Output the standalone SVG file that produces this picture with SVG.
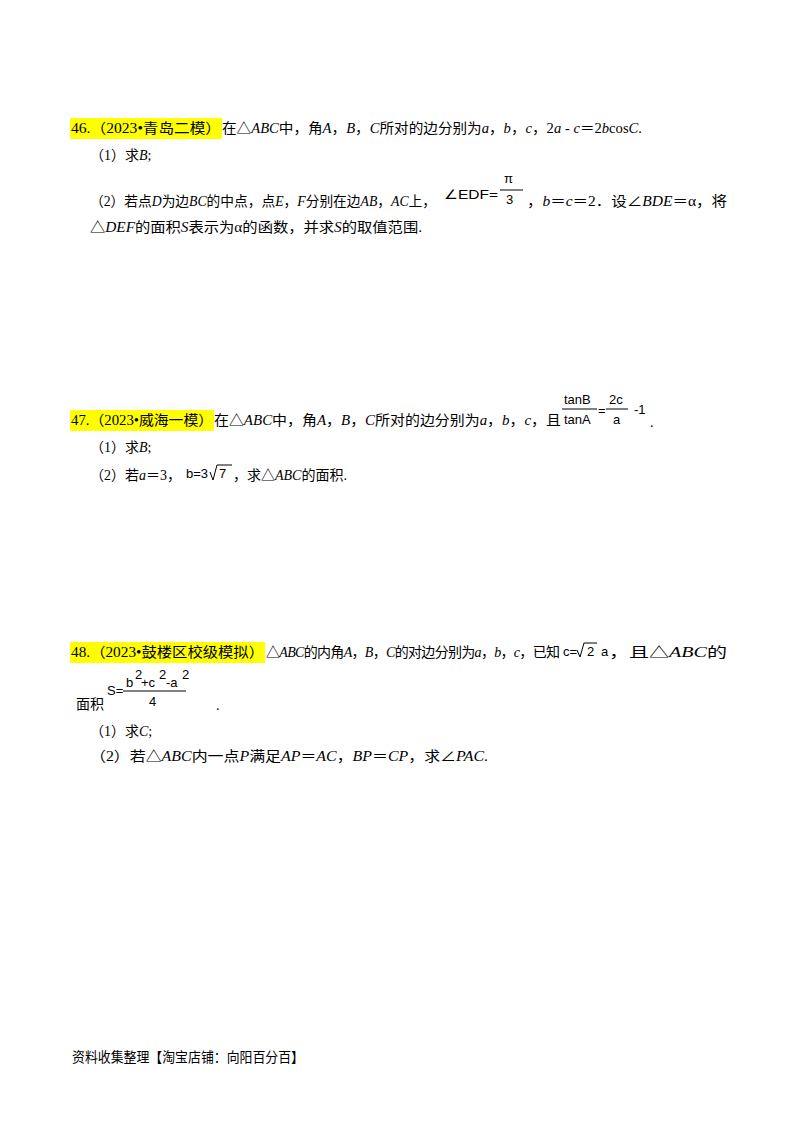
<svg xmlns="http://www.w3.org/2000/svg" width="800" height="1132" viewBox="0 0 800 1132">
<style>
t,text{font-family:"Liberation Serif","Noto Sans CJK SC",serif;font-size:14px;fill:#000}
.i{font-style:italic}
.m{font-family:"Liberation Sans","DejaVu Sans",sans-serif;font-size:13px}
.hl{fill:#ffff00}
</style>
<rect width="800" height="1132" fill="#fff"/>
<g id="q46">
<rect class="hl" x="70" y="118" width="152" height="21"/>
<text x="71" y="133" textLength="150" lengthAdjust="spacingAndGlyphs">46.（2023•青岛二模）</text>
<text x="222" y="133" textLength="420" lengthAdjust="spacingAndGlyphs">在△<tspan class="i">ABC</tspan>中，角<tspan class="i">A</tspan>，<tspan class="i">B</tspan>，<tspan class="i">C</tspan>所对的边分别为<tspan class="i">a</tspan>，<tspan class="i">b</tspan>，<tspan class="i">c</tspan>，2<tspan class="i">a</tspan> - <tspan class="i">c</tspan>＝2<tspan class="i">b</tspan>cos<tspan class="i">C</tspan>.</text>
<text x="90" y="160">（1）求<tspan class="i">B</tspan>;</text>
<text x="90" y="206" textLength="346" lengthAdjust="spacingAndGlyphs">（2）若点<tspan class="i">D</tspan>为边<tspan class="i">BC</tspan>的中点，点<tspan class="i">E</tspan>，<tspan class="i">F</tspan>分别在边<tspan class="i">AB</tspan>，<tspan class="i">AC</tspan>上，</text>
<text class="m" x="444" y="199" textLength="54" lengthAdjust="spacingAndGlyphs">∠EDF=</text>
<line x1="500" y1="190" x2="523" y2="190" stroke="#000"/>
<text class="m" x="504" y="183" font-size="15">π</text>
<text class="m" x="506" y="204" font-size="15">3</text>
<text x="527" y="206" textLength="200" lengthAdjust="spacingAndGlyphs">，<tspan class="i">b</tspan>＝<tspan class="i">c</tspan>＝2．设∠<tspan class="i">BDE</tspan>＝α，将</text>
<text x="90" y="232" textLength="332" lengthAdjust="spacingAndGlyphs">△<tspan class="i">DEF</tspan>的面积<tspan class="i">S</tspan>表示为α的函数，并求<tspan class="i">S</tspan>的取值范围.</text>
</g>
<g id="q47">
<rect class="hl" x="70" y="410" width="144" height="21"/>
<text x="71" y="425" textLength="142" lengthAdjust="spacingAndGlyphs">47.（2023•威海一模）</text>
<text x="214" y="425" textLength="347" lengthAdjust="spacingAndGlyphs">在△<tspan class="i">ABC</tspan>中，角<tspan class="i">A</tspan>，<tspan class="i">B</tspan>，<tspan class="i">C</tspan>所对的边分别为<tspan class="i">a</tspan>，<tspan class="i">b</tspan>，<tspan class="i">c</tspan>，且</text>
<line x1="562" y1="409" x2="597" y2="409" stroke="#000"/>
<text class="m" x="564" y="404">tanB</text>
<text class="m" x="564" y="424">tanA</text>
<text class="m" x="598" y="415" font-size="11">=</text>
<line x1="606" y1="409" x2="628" y2="409" stroke="#000"/>
<text class="m" x="609" y="404">2c</text>
<text class="m" x="613" y="424">a</text>
<text class="m" x="634" y="414" font-size="14">-1</text>
<text x="650" y="427">.</text>
<text x="90" y="452">（1）求<tspan class="i">B</tspan>;</text>
<text x="90" y="480">（2）若<tspan class="i">a</tspan>＝3，</text>
<text class="m" x="186" y="478">b=3</text>
<path d="M210,472 L213,480 L217,465 L232,465" fill="none" stroke="#000"/>
<text class="m" x="219" y="478">7</text>
<text x="233" y="480">，求△<tspan class="i">ABC</tspan>的面积.</text>
</g>
<g id="q48">
<rect class="hl" x="70" y="642" width="195" height="21"/>
<text x="71" y="657" textLength="193" lengthAdjust="spacingAndGlyphs">48.（2023•鼓楼区校级模拟）</text>
<text x="266" y="657" textLength="294" lengthAdjust="spacing">△<tspan class="i">ABC</tspan>的内角<tspan class="i">A</tspan>，<tspan class="i">B</tspan>，<tspan class="i">C</tspan>的对边分别为<tspan class="i">a</tspan>，<tspan class="i">b</tspan>，<tspan class="i">c</tspan>，已知</text>
<text class="m" x="563" y="656">c=</text>
<path d="M577,650 L580,657 L584,643 L597,643" fill="none" stroke="#000"/>
<text class="m" x="587" y="656">2</text>
<text class="m" x="601" y="656">a</text>
<text x="609" y="657" font-size="16" textLength="118" lengthAdjust="spacingAndGlyphs">，且△<tspan class="i">ABC</tspan>的</text>
<text x="76" y="709">面积</text>
<text class="m" x="107" y="695">S=</text>
<line x1="123" y1="691" x2="186" y2="691" stroke="#000"/>
<text class="m" x="126" y="687" font-size="14">b</text>
<text class="m" x="135" y="679" font-size="10">2</text>
<text class="m" x="141" y="687" font-size="14">+c</text>
<text class="m" x="159" y="679" font-size="10">2</text>
<text class="m" x="166" y="687" font-size="14">-a</text>
<text class="m" x="182" y="679" font-size="10">2</text>
<text class="m" x="149" y="706">4</text>
<text x="216" y="710">.</text>
<text x="90" y="736">（1）求<tspan class="i">C</tspan>;</text>
<text x="90" y="761" textLength="398" lengthAdjust="spacingAndGlyphs">（2）若△<tspan class="i">ABC</tspan>内一点<tspan class="i">P</tspan>满足<tspan class="i">AP</tspan>＝<tspan class="i">AC</tspan>，<tspan class="i">BP</tspan>＝<tspan class="i">CP</tspan>，求∠<tspan class="i">PAC</tspan>.</text>
</g>
<text x="72" y="1062" font-size="13" textLength="232" lengthAdjust="spacingAndGlyphs">资料收集整理【淘宝店铺：向阳百分百】</text>
</svg>
